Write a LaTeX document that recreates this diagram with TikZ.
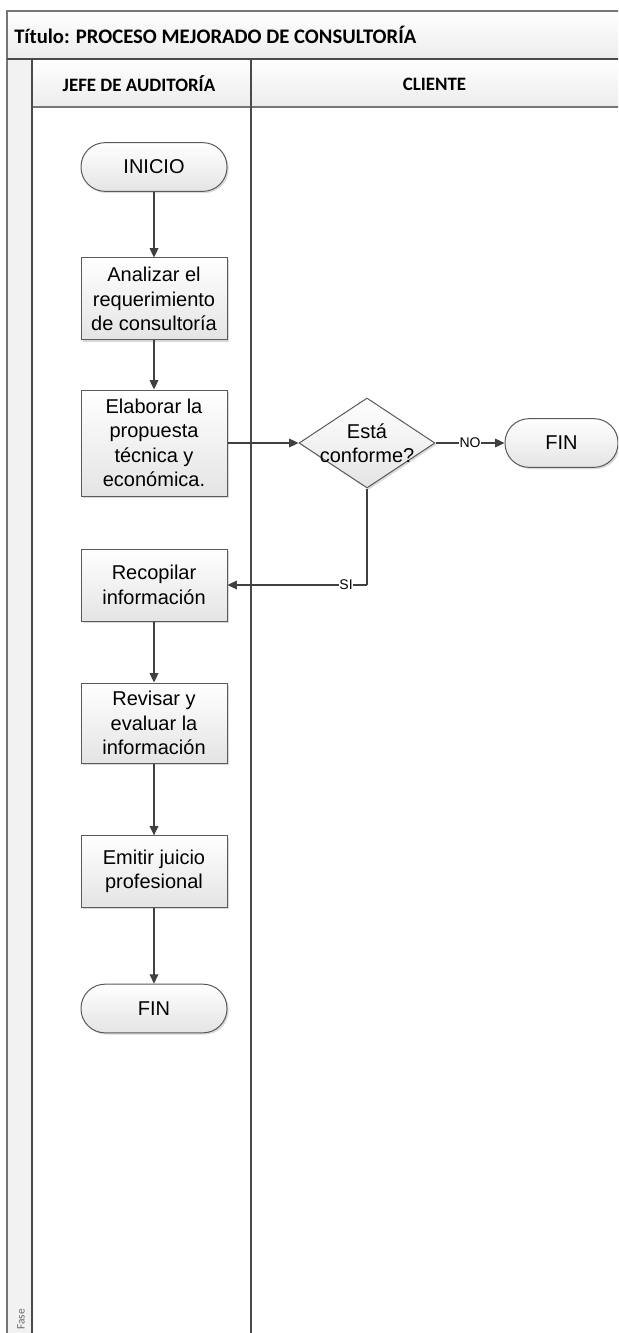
\documentclass[tikz,border=0pt]{standalone}
\usepackage{fontspec}
\setmainfont{Liberation Sans}
\newfontfamily\hdfont{Carlito}
\usetikzlibrary{shapes.geometric,shadows,arrows.meta}

\definecolor{edge}{HTML}{5A5A5A}
\definecolor{wire}{HTML}{404040}
\definecolor{frame}{HTML}{767676}
\definecolor{rule}{HTML}{4A4A4A}
\definecolor{boxlo}{HTML}{E4E4E4}
\definecolor{bandlo}{HTML}{ECECEC}
\definecolor{strip}{HTML}{F2F2F2}

\tikzset{
  flow/.style={draw=edge, line width=0.75pt, top color=white, bottom color=boxlo,
    drop shadow={shadow xshift=1.3pt, shadow yshift=-1.3pt, fill=black, opacity=0.15},
    font=\fontsize{15}{18.4}\selectfont, align=center, inner sep=0pt},
  stepbox/.style={flow, rectangle, minimum width=109.5pt},
  term/.style={flow, rectangle, rounded corners=18pt, minimum height=36.5pt},
  decision/.style={flow, diamond, minimum width=102pt, minimum height=67.5pt},
  plain/.style={font=\fontsize{15}{18.4}\selectfont, align=center, inner sep=0pt},
  link/.style={draw=wire, line width=0.9pt, -{Triangle[length=7pt,width=6.5pt]}},
  wireline/.style={draw=wire, line width=0.9pt},
  tag/.style={fill=white, inner sep=0.6pt, font=\fontsize{10.5}{12}\selectfont},
  lanehead/.style={font=\hdfont\bfseries\fontsize{14.2}{17}\selectfont, inner sep=0pt},
}

\begin{document}
\begin{tikzpicture}[x=0.75pt, y=-0.75pt]
  \clip (0,0) rectangle (618,1333);
  \fill[white] (0,0) rectangle (618,1333);

  % pool: title band, lane headers and the phase strip
  \shade[top color=white, bottom color=bandlo] (7,11) rectangle (640,59);
  \shade[top color=white, bottom color=bandlo] (32,59) rectangle (640,107);
  \fill[strip] (7,59) rectangle (32,1345);
  \draw[frame, line width=1.6pt] (640,11) -- (7,11) -- (7,1345);
  \draw[rule, line width=1.6pt] (7,59) -- (640,59);
  \draw[frame, line width=1.6pt] (32,107) -- (640,107);
  \draw[rule, line width=1.3pt] (32,59) -- (32,1345);
  \draw[rule, line width=1.3pt] (251,59) -- (251,1345);

  \node[lanehead, anchor=west, font=\hdfont\bfseries\fontsize{15.5}{18}\selectfont] (title) at (14,35) {Título: PROCESO MEJORADO DE CONSULTORÍA};
  \node[lanehead] (laneA) at (139,84) {JEFE DE AUDITORÍA};
  \node[lanehead] (laneB) at (434.5,84) {CLIENTE};
  \node[rotate=90, anchor=west, text=gray!80!black, inner sep=0pt,
        font=\hdfont\fontsize{8.5}{10}\selectfont] (phase) at (21,1330) {Fase};

  % process steps
  \node[term, minimum width=109.5pt] (ini) at (154,167) {INICIO};
  \node[stepbox, minimum height=61.5pt] (ana) at (154,299) {Analizar el\\requerimiento\\de consultoría};
  \node[stepbox, minimum height=79.5pt] (ela) at (154,443) {Elaborar la\\propuesta\\técnica y\\económica.};
  \node[decision] (dec) at (367,443) {};
  \node[plain] (decq) at (dec) {Está\\conforme?};
  \node[term, minimum width=84.75pt] (finB) at (561.5,443) {FIN};
  \node[stepbox, minimum height=54pt] (rec) at (154,585) {Recopilar\\información};
  \node[stepbox, minimum height=60pt] (rev) at (154,723) {Revisar y\\evaluar la\\información};
  \node[stepbox, minimum height=53.5pt] (emi) at (154,871.5) {Emitir juicio\\profesional};
  \node[term, minimum width=109.5pt] (finA) at (154,1008.5) {FIN};

  % connectors
  \draw[link] (ini) -- (ana);
  \draw[link] (ana) -- (ela);
  \draw[link] (ela) -- (dec);
  \draw[link] (dec) -- node[tag] {NO} (finB);
  \draw[wireline] (dec.south) -- (dec.south |- rec.east) coordinate (turn);
  \draw[link] (turn) -- node[tag, pos=0.15] {SI} (rec.east);
  \draw[link] (rec) -- (rev);
  \draw[link] (rev) -- (emi);
  \draw[link] (emi) -- (finA);
\end{tikzpicture}
\end{document}
